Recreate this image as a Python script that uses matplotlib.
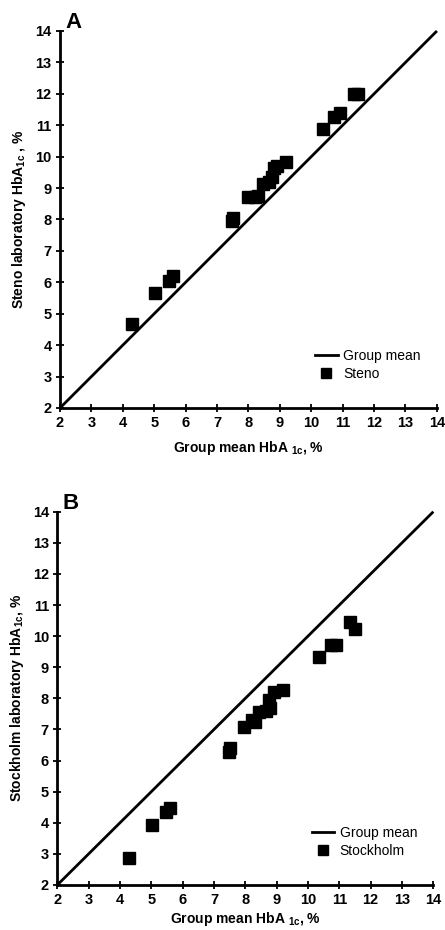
import matplotlib
matplotlib.use("Agg")
import matplotlib.pyplot as plt
from matplotlib.lines import Line2D

plt.rcParams['font.family'] = ['Liberation Sans', 'DejaVu Sans']
plt.rcParams['mathtext.fontset'] = 'custom'
plt.rcParams['mathtext.rm'] = 'Liberation Sans'
plt.rcParams['mathtext.bf'] = 'Liberation Sans:bold'

# Data
group_mean = [4.3, 5.03, 5.47, 5.6, 7.47, 7.5, 7.97, 8.2, 8.3, 8.45,
              8.65, 8.75, 8.8, 8.9, 9.2, 10.36, 10.72, 10.9, 11.35, 11.5]
steno = [4.68, 5.66, 6.05, 6.2, 7.95, 8.05, 8.72, 8.72, 8.75, 9.12,
         9.2, 9.35, 9.65, 9.7, 9.83, 10.88, 11.27, 11.4, 12.0, 12.0]
stockholm = [2.86, 3.94, 4.35, 4.48, 6.28, 6.4, 7.09, 7.3, 7.25, 7.56,
             7.6, 7.95, 7.7, 8.2, 8.27, 9.34, 9.72, 9.72, 10.44, 10.22]
identity = [2, 14]
ticks = list(range(2, 15))

fig = plt.figure(figsize=(4.45, 9.3), dpi=100)

panels = [
    dict(rect=[0.1348, 0.5613, 0.847, 0.4054], y=steno, letter='A',
         ylabel=r'Steno laboratory HbA$_{\mathbf{1c}}$ , %', name='Steno', xpad=6),
    dict(rect=[0.1288, 0.0484, 0.845, 0.4014], y=stockholm, letter='B',
         ylabel=r'Stockholm laboratory HbA$_{\mathbf{1c}}$, %', name='Stockholm', xpad=2),
]

for p in panels:
    ax = fig.add_axes(p['rect'])
    ax.plot(identity, identity, color='black', lw=2.0, solid_capstyle='butt', clip_on=False)
    ax.plot(group_mean, p['y'], linestyle='none', marker='s', markersize=8.6,
            color='black', clip_on=False)
    ax.set_xlim(2, 14)
    ax.set_ylim(2, 14)
    ax.set_xticks(ticks)
    ax.set_yticks(ticks)
    for s in ['top', 'right']:
        ax.spines[s].set_visible(False)
    for s in ['left', 'bottom']:
        ax.spines[s].set_linewidth(2.0)
    ax.tick_params(direction='inout', length=6, width=1.3, labelsize=10.5, pad=3)
    for lab in ax.get_xticklabels() + ax.get_yticklabels():
        lab.set_fontweight('bold')
    ax.set_xlabel(r'Group mean HbA $_{\mathbf{1c}}$, %', fontsize=10, fontweight='bold',
                  labelpad=p['xpad'])
    ax.set_ylabel(p['ylabel'], fontsize=10, fontweight='bold', labelpad=5)
    ax.text(0.015, 1.022, p['letter'], transform=ax.transAxes, fontsize=16,
            fontweight='bold', ha='left', va='center')
    handles = [Line2D([0], [0], color='black', lw=2.0),
               Line2D([0], [0], color='black', marker='s', linestyle='none', markersize=7)]
    ax.legend(handles, ['Group mean', p['name']], loc='lower right',
              bbox_to_anchor=(0.99, 0.038), frameon=False, fontsize=10,
              handlelength=1.6, handletextpad=0.4, labelspacing=0.3)

fig.savefig('out.png', dpi=100)
